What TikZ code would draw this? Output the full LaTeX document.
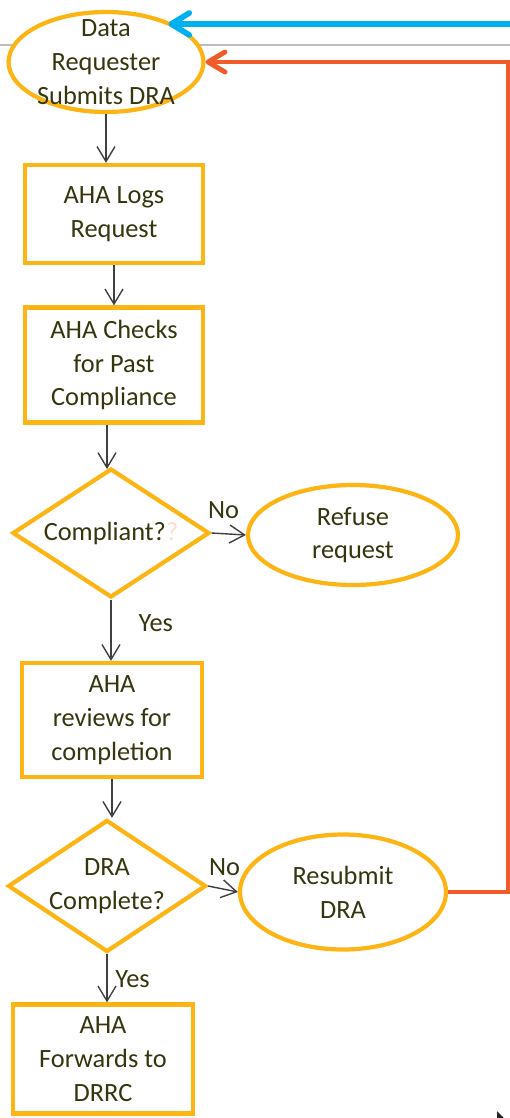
\documentclass[tikz,border=0pt]{standalone}
\usepackage{fontspec}
\setmainfont{Carlito}
\usetikzlibrary{shapes, arrows.meta, positioning}
\definecolor{aorange}{HTML}{FDB515}
\definecolor{txt}{HTML}{36360E}
\definecolor{flowgray}{HTML}{404040}
\definecolor{feedblue}{HTML}{00B0F0}
\definecolor{backred}{HTML}{F15A29}
\definecolor{rulegray}{HTML}{BDBDBD}
\definecolor{ghost}{HTML}{FDE0CC}

\begin{document}
\begin{tikzpicture}[x=0.2mm, y=-0.2mm,
    font=\fontsize{15}{19.2}\selectfont, text=txt,
    proc/.style={rectangle, draw=aorange, line width=2.4pt, fill=white, align=center, inner sep=0pt},
    term/.style={ellipse, draw=aorange, line width=2.4pt, fill=white, align=center, inner sep=0pt},
    decis/.style={diamond, aspect=1.5, draw=aorange, line width=2.4pt, fill=white, align=center,
        inner sep=0pt, minimum width=3.94cm, minimum height=2.58cm},
    flow/.style={draw=flowgray, line width=0.8pt, -{Straight Barb[length=3mm,width=3.6mm]}},
    back/.style={draw=backred, line width=2.8pt, -{Straight Barb[length=3.4mm,width=4mm,round]}},
    feed/.style={draw=feedblue, line width=3.2pt, -{Straight Barb[length=3.6mm,width=4.4mm,round]}}]
    \useasboundingbox (0,0) rectangle (510,1118);

    % 分隔线
    \draw[rulegray, line width=1.1pt] (0,45) -- (510,45);

    % 节点
    \node[term, minimum width=3.84cm, minimum height=2cm, inner ysep=-9pt] (req) at (106,62) {Data\\Requester\\Submits DRA};
    \node[proc, minimum width=3.56cm, minimum height=1.96cm] (logs) at (114,214) {AHA Logs\\Request};
    \node[proc, minimum width=3.56cm, minimum height=2.3cm] (past) at (114,365) {AHA Checks\\for Past\\Compliance};
    \node[decis] (comp) at (111,533) {Compliant?{\color{ghost}?}};
    \node[term, minimum width=4.2cm, minimum height=2cm] (refuse) at (353,535) {Refuse\\request};
    \node[proc, minimum width=3.6cm, minimum height=2.28cm] (rev) at (112,720) {AHA\\reviews for\\completion};
    \node[decis] (dra) at (107,886) {DRA\\Complete?};
    \node[term, minimum width=4.12cm, minimum height=2.3cm] (resub) at (343,892) {Resubmit\\DRA};
    \node[proc, minimum width=3.6cm, minimum height=2.18cm] (fwd) at (103,1059) {AHA\\Forwards to\\DRRC};

    % 流程箭头
    \draw[flow] (req.south) -- (req.south |- logs.north);
    \draw[flow] (logs.south) -- (logs.north |- past.north);
    \draw[flow] (past.south -| 107,0) -- (107,469);
    \draw[flow] (comp.east) -- (refuse.west) node[pos=0.35, above=5pt] (no1) {No};
    \draw[flow] (comp.south) -- (comp.south |- rev.north) node[pos=0.38, right=12pt] (yes1) {Yes};
    \draw[flow] (rev.south) -- (rev.south |- dra.north);
    \draw[flow] (dra.east) -- (resub.west) node[pos=0.55, above=4pt] (no2) {No};
    \draw[flow] (dra.south) -- (dra.south |- fwd.north) node[pos=0.52, right=1pt] (yes2) {Yes};

    % 返回箭头
    \coordinate (rc) at (508,62);
    \draw[back] (resub.east) -| (rc) -- (req.east);
    \coordinate (bin) at (512,24);
    \draw[feed] (bin) -- (bin -| req.33);

    % 角落标记
    \fill[black!85] (497,1111) -- (497,1118) -- (504,1118) -- cycle;
\end{tikzpicture}
\end{document}
